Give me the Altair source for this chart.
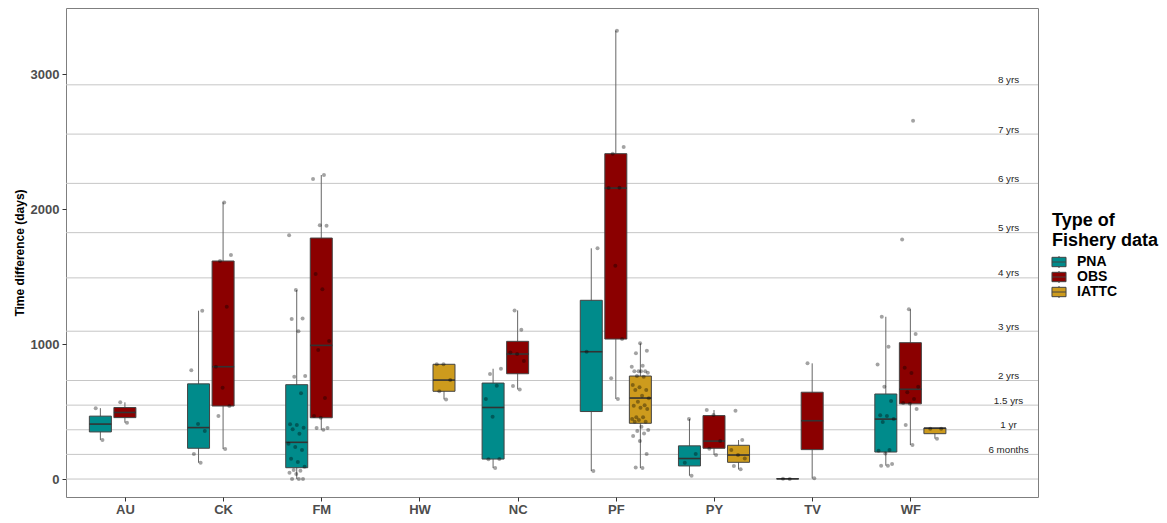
import altair as alt
import pandas as pd

sites = ["AU", "CK", "FM", "HW", "NC", "PF", "PY", "TV", "WF"]
types = ["PNA", "OBS", "IATTC"]
colors = ["#008B8B", "#8B0000", "#CD9B1D"]

# box statistics (days)
box_site = ["AU", "AU", "CK", "CK", "FM", "FM", "HW", "NC", "NC", "PF", "PF", "PF",
            "PY", "PY", "PY", "TV", "TV", "WF", "WF", "WF"]
box_type = ["PNA", "OBS", "PNA", "OBS", "PNA", "OBS", "IATTC", "PNA", "OBS", "PNA", "OBS", "IATTC",
            "PNA", "OBS", "IATTC", "PNA", "OBS", "PNA", "OBS", "IATTC"]
box_low = [290, 417, 121, 222, 0, 365, 590, 81, 664, 59, 593, 81, 25, 178, 72, 1, 5, 99, 252, 299]
box_q1 = [349, 455, 228, 541, 84, 454, 650, 148, 780, 500, 1037, 413, 97, 228, 124, 1.5, 218, 200, 557, 336]
box_med = [407, 493, 381, 832, 272, 990, 733, 530, 926, 943, 2155, 600, 152, 281, 178, 2, 432, 444, 665, 376]
box_q3 = [466, 530, 705, 1615, 699, 1785, 850, 711, 1020, 1324, 2410, 763, 246, 470, 250, 2.5, 643, 630, 1010, 378]
box_high = [525, 568, 1247, 2049, 1400, 2252, 850, 817, 1249, 1709, 3321, 1005, 444, 511, 289, 3, 857, 1202, 1257, 378]

# individual observations (days)
AU_PNA = [290, 525]
AU_OBS = [417, 568]
CK_PNA = [121, 185, 356, 407, 805, 1247]
CK_OBS = [222, 467, 541, 676, 832, 1276, 1615, 1659, 2049]
FM_PNA = [0, 0, 0, 37, 47, 62, 67, 91, 126, 150, 215, 237, 262, 336, 368, 380, 400, 405,
          635, 758, 763, 1094, 1185, 1190, 1400, 1805]
FM_OBS = [365, 378, 378, 454, 467, 600, 955, 1022, 1405, 1518, 1876, 1879, 2222, 2252]
HW_IATTC = [590, 650, 733, 850, 850]
NC_PNA = [81, 146, 148, 462, 593, 691, 778, 817]
NC_OBS = [664, 689, 874, 926, 938, 1106, 1249]
PF_PNA = [59, 943, 1709]
PF_OBS = [593, 746, 1037, 1580, 2155, 2158, 2410, 2459, 3321]
PF_IATTC = [81, 86, 185, 281, 319, 338, 356, 363, 388, 425, 425, 437, 444, 457, 457, 519, 528,
            543, 546, 573, 598, 617, 659, 659, 679, 696, 758, 763, 787, 798, 798, 798, 798,
            832, 839, 931, 950, 1005]
PY_PNA = [25, 121, 185, 444]
PY_OBS = [178, 225, 281, 474, 511]
PY_IATTC = [72, 96, 153, 178, 215, 289, 506]
TV_PNA = [1, 3]
TV_OBS = [5, 857]
WF_PNA = [99, 99, 111, 190, 210, 215, 422, 444, 467, 472, 578, 684, 849, 980, 1202]
WF_OBS = [252, 400, 519, 558, 563, 593, 642, 684, 785, 824, 1074, 1257, 1775, 2654]
WF_IATTC = [299, 373, 373]

point_groups = [
    ("AU", "PNA", AU_PNA), ("AU", "OBS", AU_OBS),
    ("CK", "PNA", CK_PNA), ("CK", "OBS", CK_OBS),
    ("FM", "PNA", FM_PNA), ("FM", "OBS", FM_OBS),
    ("HW", "IATTC", HW_IATTC),
    ("NC", "PNA", NC_PNA), ("NC", "OBS", NC_OBS),
    ("PF", "PNA", PF_PNA), ("PF", "OBS", PF_OBS), ("PF", "IATTC", PF_IATTC),
    ("PY", "PNA", PY_PNA), ("PY", "OBS", PY_OBS), ("PY", "IATTC", PY_IATTC),
    ("TV", "PNA", TV_PNA), ("TV", "OBS", TV_OBS),
    ("WF", "PNA", WF_PNA), ("WF", "OBS", WF_OBS), ("WF", "IATTC", WF_IATTC),
]

ref_days = [0, 182.5, 365, 547.5, 730, 1095, 1490, 1825, 2190, 2555, 2920]
ref_labels = ["", "6 months", "1 yr", "1.5 yrs", "2 yrs", "3 yrs", "4 yrs", "5 yrs", "6 yrs", "7 yrs", "8 yrs"]

# ---------------------------------------------------------------------------
boxes = pd.DataFrame({"site": box_site, "type": box_type, "low": box_low, "q1": box_q1,
                      "med": box_med, "q3": box_q3, "high": box_high})
rows = []
for s, t, vals in point_groups:
    for i, v in enumerate(vals):
        rows.append({"site": s, "type": t, "days": v, "i": i})
points = pd.DataFrame(rows)
refs = pd.DataFrame({"day": ref_days, "label": ref_labels})

site_arr = "[" + ",".join("'%s'" % s for s in sites) + "]"
pos_expr = ("indexof(%s, datum.site) + 1 + (datum.type == 'PNA' ? -0.25 : "
            "(datum.type == 'OBS' ? 0 : 0.25))") % site_arr

FONT = "Liberation Sans"
xscale = alt.Scale(domain=[0.4, 10.3], nice=False, zero=False)
yscale = alt.Scale(domain=[-133, 3489], nice=False, zero=False)
cscale = alt.Scale(domain=types, range=colors)

yaxis = alt.Axis(values=[0, 1000, 2000, 3000], format="d", title="Time difference (days)",
                 grid=False, domain=False, ticks=True, tickSize=4,
                 tickColor="#333333", labelFont=FONT, labelFontSize=13,
                 labelFontWeight="bold", labelColor="#4d4d4d", labelPadding=3,
                 titleFont=FONT, titleFontSize=12, titleFontWeight="bold",
                 titleColor="black", titlePadding=4)
xaxis = alt.Axis(values=list(range(1, len(sites) + 1)),
                 labelExpr=site_arr + "[datum.value - 1]",
                 title=None, grid=False, domain=False,
                 ticks=True, tickSize=4, tickColor="#333333",
                 labelFont=FONT, labelFontSize=13, labelFontWeight="bold",
                 labelColor="#4d4d4d", labelPadding=2)

hlines = alt.Chart(refs).mark_rule(color="#c6c6c6", strokeWidth=1).encode(
    y=alt.Y("day:Q", scale=yscale, axis=yaxis)
)

ref_text = alt.Chart(refs).mark_text(
    fontSize=9.8, baseline="alphabetic", align="center", color="#262626", font=FONT, dy=-1.5
).encode(
    x=alt.X(datum=10.0, scale=xscale, axis=xaxis),
    y=alt.Y("day:Q"),
    text="label:N",
)

box_base = alt.Chart(boxes).transform_calculate(
    xc=pos_expr
).transform_calculate(
    xa="datum.xc - 0.112", xb="datum.xc + 0.112"
)

whiskers = box_base.mark_rule(color="#666666", strokeWidth=1).encode(
    x=alt.X("xc:Q"),
    y=alt.Y("low:Q"),
    y2="high:Q",
)

legend = alt.Legend(
    title=["Type of", "Fishery data"], orient="none", legendX=986, legendY=204,
    titleFont=FONT, titleFontSize=18, titleFontWeight="bold", titleColor="black",
    titleLineHeight=20, titlePadding=5,
    labelFont=FONT, labelFontSize=14, labelFontWeight="bold", labelColor="black",
    symbolType="M-1.17,-0.78L1.17,-0.78L1.17,0.78L-1.17,0.78Z M0,-0.78L0,-1 M0,0.78L0,1 M-1.17,0L1.17,0",
    symbolSize=144, symbolStrokeColor="#444444", symbolStrokeWidth=1, symbolOpacity=1,
    rowPadding=-1, labelOffset=11, padding=0,
)

bars = box_base.mark_bar(stroke="#444444", strokeWidth=1, opacity=1).encode(
    x="xa:Q", x2="xb:Q",
    y="q1:Q", y2="q3:Q",
    color=alt.Color("type:N", scale=cscale, legend=legend),
)

medians = box_base.mark_rule(color="#333333", strokeWidth=1.6).encode(
    x="xa:Q", x2="xb:Q", y="med:Q"
)

dots = alt.Chart(points).transform_calculate(
    xc=pos_expr
).transform_calculate(
    xj="datum.xc + ((((datum.i + 1) * 0.6180339887) % 1) - 0.5) * 0.18"
).mark_circle(color="black", opacity=0.36, size=16).encode(
    x="xj:Q", y="days:Q"
)

chart = alt.layer(hlines, ref_text, whiskers, bars, medians, dots).properties(
    width=972, height=489,
    autosize=alt.AutoSizeParams(type="none"),
    padding={"left": 58, "top": 0, "right": 121, "bottom": 18},
).configure_view(stroke="#7f7f7f", strokeWidth=1)

chart.save("out.html", embed_options={"renderer": "svg", "actions": False})
